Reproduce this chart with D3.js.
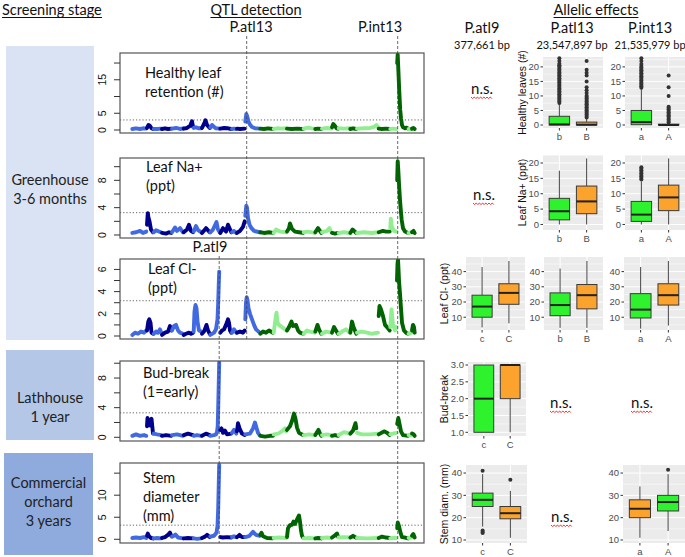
<!DOCTYPE html>
<html><head><meta charset="utf-8">
<script src="https://cdn.jsdelivr.net/npm/d3@7"></script>
<style>body{margin:0;background:#fff}svg{display:block}</style>
</head><body>
<svg id="c" width="685" height="557"></svg>
<script>
// ---------------- DATA ----------------
const stageLabels = [["Greenhouse","3-6 months"],["Lathhouse","1 year"],["Commercial","orchard","3 years"]];
const headers = ["Screening stage","QTL detection","Allelic effects"];
// cumulative genome position of chromosome starts (13 P.atl chromosomes, then 15 P.int)
const chromStarts = [0,14.7,21.3,29.7,39.7,51.3,61.3,69.7,78,88,99.7,104.7,113,128,141.3,154.7,171.3,183,189.7,199.7,206.3,218,224.7,246.3,258,264.7,276.3,279.7];
const genomeEnd = 283;
const nAtl = 13;
const qtlNames = ["P.atl9","P.atl13","P.int13"];
const qtlPos = [87.2,114.7,265.7];
const markerBp = ["377,661 bp","23,547,897 bp","21,535,979 bp"];
const traitTitles = [["Healthy leaf","retention (#)"],["Leaf Na+","(ppt)"],["Leaf Cl-","(ppt)"],["Bud-break","(1=early)"],["Stem","diameter","(mm)"]];
const thresholds = [3.0,3.27,3.18,3.3,3.2];
const lodTicks = [[0,5,10,15,20],[0,2,4,6,8,10],[0,1,2,3,4,5,6],[0,2,4,6,8,10],[0,5,10,15]];
const lodTickLabels = [[0,5,15],[0,4,8],[0,2,4,6],[0,4,8],[0,5,10]];

const lodHealthy = [
[0.3,0.3],[4,0.5],[8,0.3],[11,0.5],[14.3,0.4],
[15,0.6],[16.5,1.5],[18,1.2],[19.5,0.5],[21,0.3],
[21.7,0.3],[25,0.3],[29.3,0.4],
[30,0.3],[33,0.5],[36,0.3],[39.3,0.4],
[40,0.4],[44,0.6],[48,0.3],[51,0.5],
[51.7,0.4],[55,0.6],[58,1.2],[60,2.6],[61,1.0],
[61.7,0.6],[64,0.8],[67,0.5],[69.3,0.5],
[70,0.6],[72,1.8],[73.5,2.9],[75,1.5],[77.7,0.6],
[78.3,0.7],[80,1.5],[82,0.9],[84,0.5],[87.7,0.4],
[88.3,0.4],[92,0.6],[96,0.5],[99.3,0.3],
[100,0.3],[102,0.4],[104.3,0.3],
[105,0.4],[108,0.3],[112.7,0.4],
[113.3,2.5],[114.3,4.8],[115.3,4.0],[116.5,2.5],[118,1.6],[120,0.9],[123,0.5],[127.7,0.4],
[128.3,0.4],[132,0.3],[136,0.5],[141,0.3],
[141.7,0.3],[145,0.5],[150,0.4],[154.3,0.5],
[155,0.4],[160,0.3],[165,0.4],[171,0.3],
[171.7,0.4],[176,0.7],[180,0.5],[182.7,0.4],
[183.3,0.3],[186,0.4],[189.3,0.3],
[190,0.4],[195,0.6],[199.3,0.4],
[200,0.8],[201.3,1.8],[203,1.2],[204.5,0.5],[206,0.4],
[206.7,0.5],[212,0.4],[217.7,0.5],
[218.3,0.3],[221,0.5],[224.3,0.3],
[225,0.4],[232,0.5],[238,0.6],[242,0.9],[244.5,1.5],[246,0.8],
[246.7,0.4],[250,0.3],[254,0.4],[257.7,0.3],
[258.3,0.3],[261,0.4],[264.4,0.3],
[265.2,20],[265.7,22.5],[266.2,19],[266.7,15.5],[267.2,12],[267.7,9],[268.2,6],[269,3.5],[270,1.5],[271,0.8],[273,0.5],[274.5,0.7],[276,0.4],
[276.6,0.3],[279.4,0.3],
[280,0.4],[281.5,0.6],[282.7,0.3]];

const lodNa = [
[0.3,0.3],[4,0.4],[8,0.6],[11,0.3],[14.3,0.5],
[15,1.5],[15.8,3.2],[16.5,2.5],[17.5,2.0],[19,0.8],[21,0.4],
[21.7,0.4],[24,0.7],[27,0.5],[29.3,0.4],
[30,0.3],[34,0.2],[37,0.4],[39.3,0.3],
[40,0.4],[43,1.1],[45,0.6],[48,1.0],[51,0.4],
[51.7,0.4],[55,0.8],[57,1.5],[59,0.6],[61,0.4],
[61.7,0.5],[64,1.3],[66,0.7],[69.3,0.4],
[70,0.3],[74,1.0],[77.7,0.4],
[78.3,0.4],[81,0.8],[84.5,1.9],[86,0.8],[87.7,0.4],
[88.3,0.3],[91,1.0],[94,0.5],[96,1.5],[99.3,0.4],
[100,0.4],[102,0.6],[104.3,0.3],
[105,0.3],[108,0.6],[111,1.2],[112.7,2.0],
[113.3,2.8],[114.3,4.3],[115,4.0],[116,2.5],[117.5,1.5],[119.5,1.0],[122,0.6],[127.7,0.4],
[128.3,0.4],[132,0.3],[137,0.4],[141,0.3],
[141.7,0.3],[144,0.8],[148,0.5],[154.3,0.4],
[155,0.5],[157,1.0],[158,1.7],[160,0.9],[163,0.5],[167,0.4],[171,0.3],
[171.7,0.4],[176,0.5],[182.7,0.3],
[183.3,0.4],[186,1.0],[189.3,0.3],
[190,0.4],[195,0.6],[197.5,1.0],[199.3,0.4],
[200,0.3],[203,0.2],[206,0.3],
[206.7,0.3],[212,0.4],[217.7,0.3],
[218.3,0.3],[220.5,0.8],[224.3,0.3],
[225,0.3],[232,0.4],[240,0.3],[246,0.4],
[246.7,0.4],[251,0.6],[254,0.5],[257.7,0.5],
[258.3,1.0],[258.8,2.4],[259.8,1.2],[262,0.6],[264.4,0.5],
[265.2,8],[265.7,10.8],[266.3,9.5],[267,7.5],[268,5.1],[269,3.3],[269.7,2.2],[271,1.0],[273,0.5],[276,0.3],
[276.6,0.3],[279.4,0.4],
[280,0.4],[281.5,0.6],[282.7,0.3]];

const lodCl = [
[0.3,0.1],[3,0.3],[6,0.2],[9,0.4],[12,0.3],[14.3,0.5],
[15,0.5],[16.3,1.3],[17.3,1.5],[18.5,1.2],[19.5,0.3],[21,0.2],
[21.7,0.2],[24,0.4],[26,0.3],[28,0.6],[29.3,0.3],
[30,0.1],[33,0.3],[36,0.4],[38,0.9],[39.3,0.5],
[40,0.5],[42,0.9],[44,1.0],[46,0.5],[48,0.3],[51,0.2],
[51.7,0.1],[54,0.2],[57,0.3],[59,0.2],[61,0.3],
[61.7,0.4],[62.5,2.2],[63.5,2.8],[64.5,2.5],[65.5,1.3],[67,0.5],[69.3,0.4],
[70,0.2],[72,0.4],[74.5,1.0],[76,0.5],[77.7,0.2],
[78.3,0.1],[82,0.3],[84,0.6],[85.5,1.5],[86.2,3.0],[86.7,4.5],[87.2,5.8],
[88.3,0.3],[90,0.5],[92,0.6],[94,1.0],[96,1.5],[97,1.2],[98,0.5],[99.3,0.3],
[100,0.3],[102,0.6],[104.3,0.3],
[105,0.3],[108,0.4],[111,0.3],[112.7,0.5],
[113.3,1.5],[114,3.0],[114.7,3.5],[115.5,3.2],[116.5,2.5],[118,2.0],[120,1.5],[122,1.0],[124,0.6],[127.7,0.3],
[128.3,0.2],[131,0.4],[134,0.3],[137,0.5],[141,0.3],
[141.7,0.3],[143.5,1.5],[144.5,2.1],[145.5,1.2],[147,1.0],[150,0.8],[154.3,0.5],
[155,0.5],[157,0.8],[159.5,1.3],[161,0.9],[164,1.0],[166,0.5],[168,0.3],[171,0.2],
[171.7,0.2],[175,0.5],[178,0.4],[182.7,0.3],
[183.3,0.4],[185.5,1.0],[187,0.6],[189.3,0.2],
[190,0.2],[194,0.4],[199.3,0.3],
[200,0.3],[202,0.8],[204,0.5],[206,0.2],
[206.7,0.2],[210,0.4],[214,0.6],[217.7,0.3],
[218.3,0.3],[220,1.3],[221.5,0.8],[224.3,0.2],
[225,0.3],[230,0.4],[235,0.3],[240,0.2],[246,0.3],
[246.7,1.8],[247.5,2.7],[249,2.4],[251,1.8],[253,1.0],[255,0.8],[257.7,0.5],
[258.3,0.8],[259.5,2.4],[261,1.0],[263,0.5],[264.4,0.8],
[265,5.0],[265.5,6.5],[266,6.9],[266.5,6.0],[267,5.0],[268,3.8],[269,2.5],[270,1.2],[272,0.5],[274,0.3],[276,0.2],
[276.6,0.2],[279.4,0.3],
[280,0.5],[281,1.0],[282,0.8],[282.7,0.3]];

const lodBud = [
[0.3,0.2],[4,0.4],[8,0.2],[12,0.3],[14.3,0.2],
[15,1.5],[15.5,2.6],[16.5,2.0],[18,1.6],[19.5,2.5],[20.5,1.2],[21,0.5],
[21.7,0.5],[25,0.4],[29.3,0.3],
[30,0.2],[34,0.3],[39.3,0.2],
[40,0.3],[45,0.4],[51,0.2],
[51.7,0.3],[56,0.5],[61,0.3],
[61.7,0.2],[65,0.3],[69.3,0.2],
[70,0.2],[74,0.5],[77.7,0.3],
[78.3,0.2],[82,0.3],[84,0.4],[85,0.7],[85.7,1.5],[86.2,4],[86.7,7],[87.2,10.1],
[88.3,1.0],[89.5,1.2],[91,0.6],[93,0.9],[95,0.4],[99.3,0.5],
[100,0.6],[102,1.0],[104.3,0.5],
[105,0.8],[106,1.9],[107.5,1.2],[110,0.5],[112.7,0.3],
[113.3,0.4],[118,0.5],[121,1.2],[123,2.0],[124.5,1.3],[126,0.6],[127.7,0.3],
[128.3,0.2],[133,0.1],[138,0.2],[141,0.2],
[141.7,0.4],[146,0.5],[150,0.8],[153,1.2],[154.3,0.8],
[155,1.0],[158,1.5],[160,2.2],[162,3.2],[163.5,2.5],[165,1.3],[167,0.6],[171,0.3],
[171.7,0.3],[177,0.4],[182.7,0.3],
[183.3,0.3],[186.5,1.0],[188,0.5],[189.3,0.2],
[190,0.3],[195,0.4],[199.3,0.3],
[200,0.2],[203,0.3],[206,0.2],
[206.7,0.3],[212,0.7],[217.7,0.5],
[218.3,0.5],[221,0.9],[223.5,1.9],[224.3,1.2],
[225,0.6],[230,0.4],[238,0.4],[246,0.5],
[246.7,0.4],[252,0.8],[255,0.6],[257.7,0.3],
[258.3,0.4],[261,0.5],[264.4,0.6],
[265.2,1.8],[266.3,2.6],[267.5,1.8],[269,0.8],[271,0.3],[276,0.2],
[276.6,0.3],[279.4,0.3],
[280,0.5],[281.5,0.4],[282.7,0.2]];

const lodStem = [
[0.3,0.3],[4,0.4],[8,0.3],[12,0.5],[14.3,0.3],
[15,0.8],[15.8,1.3],[17,0.7],[19,0.3],[21,0.2],
[21.7,0.2],[25,0.3],[29.3,0.2],
[30,0.3],[33,0.5],[36,1.0],[38,1.5],[39.3,0.8],
[40,0.6],[42,0.8],[43.5,1.1],[46,0.4],[51,0.2],
[51.7,0.2],[56,0.3],[61,0.2],
[61.7,0.2],[65,0.1],[69.3,0.2],
[70,0.3],[73,0.6],[75,1.0],[77.7,0.5],
[78.3,0.6],[82,0.8],[84.5,1.5],[85.5,3],[86.2,7],[86.7,12],[87.2,16.9],
[88.3,0.5],[91,0.4],[95,0.5],[99.3,0.4],
[100,0.5],[102,0.7],[104.3,0.5],
[105,0.5],[107.5,1.0],[110,0.5],[112.7,0.5],
[113.3,0.5],[117,0.7],[121,1.7],[124,1.0],[127.7,0.8],
[128.3,1.0],[129.5,1.5],[131,0.7],[135,0.3],[141,0.2],
[141.7,0.3],[147,0.4],[154.3,0.3],
[155,0.5],[156,2.5],[158,3.2],[160,3.3],[161.5,4.0],[163,3.5],[165,4.5],[167,5.4],[168,4.0],[169,2.0],[170,0.8],[171,0.4],
[171.7,0.2],[177,0.3],[182.7,0.2],
[183.3,0.2],[186,0.3],[189.3,0.2],
[190,0.3],[195,0.4],[199.3,0.3],
[200,0.4],[203,0.9],[205,1.3],[206,0.6],
[206.7,0.4],[212,0.5],[217.7,0.4],
[218.3,0.4],[221,0.8],[224.3,0.3],
[225,0.3],[235,0.2],[246,0.3],
[246.7,0.3],[250,0.6],[254,0.4],[257.7,0.3],
[258.3,0.2],[261,0.3],[264.4,0.3],
[265.2,2.5],[265.8,3.8],[267,3.0],[268.5,1.5],[270,0.5],[273,0.4],[276,0.2],
[276.6,0.3],[279.4,0.4],
[280,0.8],[281.3,1.2],[282.7,0.4]];

// Box plot statistics: [lower whisker, Q1, median, Q3, upper whisker]
const boxYLabels = ["Healthy leaves (#)","Leaf Na+ (ppt)","Leaf Cl- (ppt)","Bud-break","Stem diam. (mm)"];
const hlAtl13 = {cats:["b","B"], stats:[[0,0,0.2,3,7.3],[0,0,0.1,1,2.4]],
  out:[[7.6,8.1,8.6,9.1,9.6,10.1,10.6,11.1,11.6,12.1,12.6,13.1,13.6,14.1,14.6,15.1,15.6,16.1,16.6,17.1,17.6,18.1,18.6,19.1,19.6,20.1,20.6,21.1,22,23],
       [2.6,3.1,3.6,4.1,4.6,5.1,5.6,6.1,6.6,7.1,7.6,8.1,8.6,9.1,9.6,10.1,11,12,13,15,17,18,19,22]]};
const hlInt13 = {cats:["a","A"], stats:[[0,0.1,1,5,12.3],[0,0,0,0.3,0.6]],
  out:[[12.8,13.3,13.8,14.3,14.8,15.3,15.8,16.3,16.8,17.3,17.8,18.3,18.8,19.3,19.8,20.3,21,22,23],
       [0.9,1.4,1.9,2.4,2.9,3.4,3.9,4.4,4.9,5.4,5.9,6.3,10,13,17]]};
const naAtl13 = {cats:["b","B"], stats:[[0,1.5,4.3,8.5,17.5],[0,3.5,7.5,12.5,21.5]], out:[[],[]]};
const naInt13 = {cats:["a","A"], stats:[[0,1,3.2,7.5,14],[0,4.5,8.8,12.8,21.5]],
  out:[[14.6,15.1,15.6,16.1,16.6,17.1,17.6,18.1,18.6],[]]};
const clAtl9 = {cats:["c","C"], stats:[[3.3,10,17,24.5,43],[6,18.5,26,32,47]], out:[[],[]]};
const clAtl13 = {cats:["b","B"], stats:[[3,11,18,26,42],[3,15.5,24.5,31.5,47]], out:[[],[]]};
const clInt13 = {cats:["a","A"], stats:[[2.5,9.5,15,25.5,43],[4.5,18,24.5,32,47]], out:[[],[]]};
const bbAtl9 = {cats:["c","C"], stats:[[1,1,2,3,3],[1,2,3,3,3]], out:[[],[]]};
const sdAtl9 = {cats:["c","C"], stats:[[16,25,28,31,39.5],[11,19.5,22,25,32]], out:[[41,14.2,13.6,13.1],[37]]};
const sdInt13 = {cats:["a","A"], stats:[[11,20,24,28,34],[14,23,27,30,39.5]], out:[[],[41.5]]};
const nsText = "n.s.";

// ---------------- DRAWING ----------------
const svg = d3.select("#c");
const FONT = "Lato, 'Open Sans', sans-serif";
const AX = "'Liberation Sans', Arial, sans-serif";
const GREEN = "#2EF22E", ORANGE = "#FBA32C";

// headers
[[2,"start"],[256,"middle"],[596,"middle"]].forEach(([x,a],i)=>{
  const t = svg.append("text").attr("x",x).attr("y",15).attr("text-anchor",a)
    .attr("font-family",FONT).attr("font-size",14.5).attr("fill","#111").text(headers[i]);
  const bb = t.node().getBBox();
  svg.append("line").attr("x1",bb.x).attr("x2",bb.x+bb.width).attr("y1",17.5).attr("y2",17.5)
    .attr("stroke","#111").attr("stroke-width",1);
});

// stage boxes
const stageBoxes = [{x:6,y:46,w:88,h:294,fill:"#DAE3F3",ty:185},{x:6,y:350,w:88,h:90,fill:"#B4C7E7",ty:403},{x:4,y:453,w:89,h:102,fill:"#8FAADC",ty:488}];
stageBoxes.forEach((b,i)=>{
  svg.append("rect").attr("x",b.x).attr("y",b.y).attr("width",b.w).attr("height",b.h).attr("fill",b.fill);
  stageLabels[i].forEach((s,j)=>{
    svg.append("text").attr("x",b.x+b.w/2).attr("y",b.ty+j*19).attr("text-anchor","middle")
      .attr("font-family",FONT).attr("font-size",14.5).attr("fill","#222").text(s);
  });
});

// Manhattan panels
const xG = d3.scaleLinear().domain([0,genomeEnd]).range([132,415]);
const chromOf = u => d3.bisectRight(chromStarts,u)-1;
const chromColor = i => i<nAtl ? (i%2===0?"#4169E1":"#00008B") : ((i-nAtl)%2===0?"#006400":"#90EE90");
const lodData = [lodHealthy,lodNa,lodCl,lodBud,lodStem];
const mLayout = [
  {top:53, bot:133, dom:[-0.9,23], tx:145, ty:78},
  {top:158,bot:238, dom:[-0.44,11.27], tx:146, ty:172},
  {top:259,bot:339, dom:[-0.27,6.94], tx:148, ty:274},
  {top:361,bot:441, dom:[-0.5,10.3], tx:143, ty:378},
  {top:463,bot:543, dom:[-0.84,17.3], tx:143, ty:483}];
const PX0 = 120, PX1 = 424;
mLayout.forEach((L,k)=>{
  const y = d3.scaleLinear().domain(L.dom).range([L.bot,L.top]);
  const g = svg.append("g");
  const cid = "clip"+k;
  svg.append("clipPath").attr("id",cid).append("rect").attr("x",PX0).attr("y",L.top).attr("width",PX1-PX0).attr("height",L.bot-L.top);
  // threshold
  g.append("line").attr("x1",PX0).attr("x2",PX1).attr("y1",y(thresholds[k])).attr("y2",y(thresholds[k]))
    .attr("stroke","#555").attr("stroke-width",0.9).attr("stroke-dasharray","1.2,2");
  const groups = d3.groups(lodData[k], d=>chromOf(d[0]));
  const line = d3.line().x(d=>xG(d[0])).y(d=>y(d[1]));
  const lg = g.append("g").attr("clip-path",`url(#${cid})`);
  groups.forEach(([ci,pts])=>{
    lg.append("path").attr("d",line(pts)).attr("fill","none").attr("stroke",chromColor(ci))
      .attr("stroke-width",3.9).attr("stroke-linejoin","round").attr("stroke-linecap","round");
  });
  g.append("rect").attr("x",PX0).attr("y",L.top).attr("width",PX1-PX0).attr("height",L.bot-L.top)
    .attr("fill","none").attr("stroke","#555").attr("stroke-width",1.2);
  lodTicks[k].forEach(t=>{
    g.append("line").attr("x1",PX0-6).attr("x2",PX0).attr("y1",y(t)).attr("y2",y(t)).attr("stroke","#333").attr("stroke-width",1);
  });
  lodTickLabels[k].forEach(t=>{
    g.append("text").attr("transform",`translate(106,${y(t)}) rotate(-90)`).attr("text-anchor","middle")
      .attr("font-family",AX).attr("font-size",10.5).attr("fill","#111").text(t);
  });
  traitTitles[k].forEach((s,j)=>{
    g.append("text").attr("x",L.tx).attr("y",L.ty+j*19).attr("font-family",FONT).attr("font-size",14.5).attr("fill","#111").text(s);
  });
});

// QTL dashed lines and labels
const qtlSpan = [[256,543],[36,339],[36,543]];
const qtlLabel = [[210,252],[251,32],[380,32]];
qtlNames.forEach((n,i)=>{
  svg.append("line").attr("x1",xG(qtlPos[i])).attr("x2",xG(qtlPos[i])).attr("y1",qtlSpan[i][0]).attr("y2",qtlSpan[i][1])
    .attr("stroke","#444").attr("stroke-width",0.8).attr("stroke-dasharray","3,2");
  svg.append("text").attr("x",qtlLabel[i][0]).attr("y",qtlLabel[i][1]).attr("text-anchor","middle")
    .attr("font-family",FONT).attr("font-size",14.5).attr("fill","#111").text(n);
});

// allelic effects column headers
const colCenters = [482,572,650];
qtlNames.forEach((n,i)=>{
  svg.append("text").attr("x",colCenters[i]).attr("y",33).attr("text-anchor","middle")
    .attr("font-family",FONT).attr("font-size",14.5).attr("fill","#111").text(n);
  svg.append("text").attr("x",colCenters[i]).attr("y",49).attr("text-anchor","middle")
    .attr("font-family",FONT).attr("font-size",11).attr("fill","#111").text(markerBp[i]);
});

// box plots
function boxPanel(p){
  const {x0,x1,top,bot,dom,ticks,fmt,data,fills} = p;
  const y = d3.scaleLinear().domain(dom).range([bot,top]);
  const x = d3.scalePoint().domain(data.cats).range([x0,x1]).padding(0.6);
  const bw = (x1-x0)/2.2*0.75;
  const g = svg.append("g");
  g.append("rect").attr("x",x0).attr("y",top).attr("width",x1-x0).attr("height",bot-top).attr("fill","#EBEBEB");
  const step = ticks[1]-ticks[0];
  const minors = d3.range(ticks[0]-step/2, dom[1], step).filter(v=>v>dom[0]);
  minors.forEach(v=>g.append("line").attr("x1",x0).attr("x2",x1).attr("y1",y(v)).attr("y2",y(v)).attr("stroke","#fff").attr("stroke-width",0.5));
  ticks.forEach(v=>g.append("line").attr("x1",x0).attr("x2",x1).attr("y1",y(v)).attr("y2",y(v)).attr("stroke","#fff").attr("stroke-width",1));
  data.cats.forEach(c=>g.append("line").attr("x1",x(c)).attr("x2",x(c)).attr("y1",top).attr("y2",bot).attr("stroke","#fff").attr("stroke-width",1));
  data.cats.forEach((c,i)=>{
    const s = data.stats[i], cx = x(c);
    g.append("line").attr("x1",cx).attr("x2",cx).attr("y1",y(s[0])).attr("y2",y(s[1])).attr("stroke","#444").attr("stroke-width",1);
    g.append("line").attr("x1",cx).attr("x2",cx).attr("y1",y(s[3])).attr("y2",y(s[4])).attr("stroke","#444").attr("stroke-width",1);
    g.append("rect").attr("x",cx-bw/2).attr("y",y(s[3])).attr("width",bw).attr("height",Math.max(0.5,y(s[1])-y(s[3])))
      .attr("fill",fills[i]).attr("stroke","#3a3a3a").attr("stroke-width",1);
    g.append("line").attr("x1",cx-bw/2).attr("x2",cx+bw/2).attr("y1",y(s[2])).attr("y2",y(s[2])).attr("stroke","#222").attr("stroke-width",2);
    data.out[i].forEach(o=>g.append("circle").attr("cx",cx).attr("cy",y(o)).attr("r",2).attr("fill","#333"));
    g.append("line").attr("x1",cx).attr("x2",cx).attr("y1",bot).attr("y2",bot+2.5).attr("stroke","#333");
    g.append("text").attr("x",cx).attr("y",bot+12).attr("text-anchor","middle").attr("font-family",AX).attr("font-size",9.5).attr("fill","#4D4D4D").text(c);
  });
  ticks.forEach(v=>{
    g.append("line").attr("x1",x0-2.5).attr("x2",x0).attr("y1",y(v)).attr("y2",y(v)).attr("stroke","#333");
    g.append("text").attr("x",x0-4).attr("y",y(v)).attr("dy","0.35em").attr("text-anchor","end")
      .attr("font-family",AX).attr("font-size",9.5).attr("fill","#4D4D4D").text(fmt?d3.format(fmt)(v):v);
  });
  if(p.ylab!==undefined){
    g.append("text").attr("transform",`translate(${p.ylabX},${(top+bot)/2}) rotate(-90)`).attr("text-anchor","middle")
      .attr("dy","0.35em").attr("font-family",AX).attr("font-size",10.5).attr("fill","#111").text(p.ylab);
  }
}
const GO = [GREEN,ORANGE], OG = [ORANGE,GREEN];
const r1 = {top:57,bot:128,dom:[-1.03,23.4],ticks:[0,5,10,15,20]};
const r2 = {top:155,bot:230,dom:[-1.8,22.6],ticks:[0,5,10,15,20]};
const r3 = {top:257,bot:330,dom:[1.6,49.6],ticks:[10,20,30,40]};
const r4 = {top:362,bot:436,dom:[0.89,3.09],ticks:[1,1.5,2,2.5,3],fmt:".1f"};
const r5 = {top:465,bot:543,dom:[8.65,43.6],ticks:[10,20,30,40]};
boxPanel({...r1,x0:543,x1:603,data:hlAtl13,fills:GO,ylab:boxYLabels[0],ylabX:522});
boxPanel({...r1,x0:625,x1:685,data:hlInt13,fills:GO});
boxPanel({...r2,x0:543,x1:603,data:naAtl13,fills:GO,ylab:boxYLabels[1],ylabX:522});
boxPanel({...r2,x0:625,x1:685,data:naInt13,fills:GO});
boxPanel({...r3,x0:466,x1:525,data:clAtl9,fills:GO,ylab:boxYLabels[2],ylabX:444});
boxPanel({...r3,x0:544,x1:603,data:clAtl13,fills:GO});
boxPanel({...r3,x0:624,x1:685,data:clInt13,fills:GO});
boxPanel({...r4,x0:468,x1:526,data:bbAtl9,fills:GO,ylab:boxYLabels[3],ylabX:444});
boxPanel({...r5,x0:466,x1:527,data:sdAtl9,fills:GO,ylab:boxYLabels[4],ylabX:444});
boxPanel({...r5,x0:623,x1:685,data:sdInt13,fills:OG});

// n.s. labels with spell-check squiggle
[[482,94],[484,200],[561,408],[642,408],[562,522]].forEach(([x,yb])=>{
  const t = svg.append("text").attr("x",x).attr("y",yb).attr("text-anchor","middle")
    .attr("font-family",FONT).attr("font-size",15).attr("fill","#111").text(nsText);
  const bb = t.node().getBBox();
  let d = "", up = true;
  for(let xx=bb.x; xx<=bb.x+bb.width+0.1; xx+=1.6){ d += (d?"L":"M")+xx+","+(yb+(up?3:4.6)); up=!up; }
  svg.append("path").attr("d",d).attr("fill","none").attr("stroke","#E02020").attr("stroke-width",0.9);
});
</script>
</body></html>
